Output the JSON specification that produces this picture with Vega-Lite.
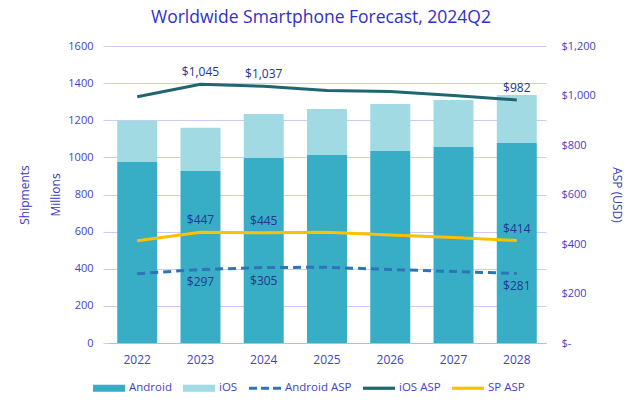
{
  "$schema": "https://vega.github.io/schema/vega-lite/v6.json",
  "width": 438,
  "height": 297,
  "autosize": {"type": "none"},
  "padding": {"left": 108, "top": 46, "right": 94, "bottom": 65},
  "background": "white",
  "title": {
    "text": "Worldwide Smartphone Forecast, 2024Q2",
    "font": "Open Sans",
    "fontSize": 17.5,
    "fontWeight": "normal",
    "color": "#3030C8",
    "anchor": "middle",
    "dx": -6,
    "offset": 14
  },
  "config": {
    "view": {"stroke": null},
    "font": "Open Sans",
    "axis": {
      "labelFont": "Open Sans",
      "titleFont": "Open Sans",
      "labelColor": "#4343C4",
      "titleColor": "#3A3AC0",
      "labelFontSize": 11,
      "titleFontSize": 12,
      "titleFontWeight": "normal",
      "gridColor": "#CBCBF3",
      "tickColor": "#CBCBF3",
      "domainColor": "#B9B9EE"
    },
    "legend": {
      "labelFont": "Open Sans",
      "labelFontSize": 11.5,
      "labelColor": "#4343C4"
    }
  },
  "data": {
    "values": [
      {"year": "2022", "series": "Android", "value": 975},
      {"year": "2023", "series": "Android", "value": 927},
      {"year": "2024", "series": "Android", "value": 997},
      {"year": "2025", "series": "Android", "value": 1013},
      {"year": "2026", "series": "Android", "value": 1034},
      {"year": "2027", "series": "Android", "value": 1056},
      {"year": "2028", "series": "Android", "value": 1078},
      {"year": "2022", "series": "iOS", "value": 222},
      {"year": "2023", "series": "iOS", "value": 232},
      {"year": "2024", "series": "iOS", "value": 236},
      {"year": "2025", "series": "iOS", "value": 248},
      {"year": "2026", "series": "iOS", "value": 254},
      {"year": "2027", "series": "iOS", "value": 253},
      {"year": "2028", "series": "iOS", "value": 258},
      {"year": "2022", "series": "Android ASP", "value": 280},
      {"year": "2023", "series": "Android ASP", "value": 297},
      {"year": "2024", "series": "Android ASP", "value": 305},
      {"year": "2025", "series": "Android ASP", "value": 306},
      {"year": "2026", "series": "Android ASP", "value": 297},
      {"year": "2027", "series": "Android ASP", "value": 289},
      {"year": "2028", "series": "Android ASP", "value": 281},
      {"year": "2022", "series": "iOS ASP", "value": 995},
      {"year": "2023", "series": "iOS ASP", "value": 1045},
      {"year": "2024", "series": "iOS ASP", "value": 1037},
      {"year": "2025", "series": "iOS ASP", "value": 1020},
      {"year": "2026", "series": "iOS ASP", "value": 1016},
      {"year": "2027", "series": "iOS ASP", "value": 1000},
      {"year": "2028", "series": "iOS ASP", "value": 982},
      {"year": "2022", "series": "SP ASP", "value": 413},
      {"year": "2023", "series": "SP ASP", "value": 447},
      {"year": "2024", "series": "SP ASP", "value": 445},
      {"year": "2025", "series": "SP ASP", "value": 447},
      {"year": "2026", "series": "SP ASP", "value": 436},
      {"year": "2027", "series": "SP ASP", "value": 426},
      {"year": "2028", "series": "SP ASP", "value": 414}
    ]
  },
  "encoding": {
    "x": {
      "field": "year",
      "type": "nominal",
      "scale": {"paddingInner": 0.368, "paddingOuter": 0.146},
      "axis": {"title": null, "labelAngle": 0, "ticks": false, "labelPadding": 11, "labelFontSize": 12, "domainColor": "#B9B9EE"}
    }
  },
  "layer": [
    {
      "transform": [{"filter": "datum.series === 'Android' || datum.series === 'iOS'"}],
      "mark": {"type": "bar"},
      "encoding": {
        "y": {
          "field": "value",
          "type": "quantitative",
          "stack": "zero",
          "scale": {"domain": [0, 1600]},
          "axis": {
            "values": [0, 200, 400, 600, 800, 1000, 1200, 1400, 1600],
            "format": "d",
            "title": ["Shipments", "\u00a0\u00a0\u00a0\u00a0\u00a0\u00a0\u00a0\u00a0\u00a0\u00a0\u00a0\u00a0\u00a0\u00a0\u00a0\u00a0\u00a0Millions"],
            "titleLineHeight": 31,
            "titlePadding": 5,
            "domain": false,
            "tickSize": 5,
            "labelPadding": 10,
            "grid": true
          }
        },
        "order": {"field": "series", "sort": "ascending"},
        "color": {
          "field": "series",
          "type": "nominal",
          "scale": {
            "domain": ["Android", "iOS", "Android ASP", "iOS ASP", "SP ASP"],
            "range": ["#37AEC6", "#A2DAE4", "#2E75B6", "#1F6670", "#FFC000"]
          }
        }
      }
    },
    {
      "transform": [{"filter": "datum.series !== 'Android' && datum.series !== 'iOS'"}],
      "encoding": {
        "y": {
          "field": "value",
          "type": "quantitative",
          "scale": {"domain": [0, 1200]},
          "axis": {
            "orient": "right",
            "values": [0, 200, 400, 600, 800, 1000, 1200],
            "labelExpr": "datum.value === 0 ? '$-' : format(datum.value, '$,.0f')",
            "title": "ASP (USD)",
            "titlePadding": 14,
            "domain": false,
            "ticks": false,
            "grid": false,
            "labelPadding": 15
          }
        }
      },
      "layer": [
        {
          "transform": [{"filter": "datum.series === 'Android ASP'"}],
          "mark": {"type": "line", "color": "#2E75B6", "strokeWidth": 3, "strokeDash": [8, 5]}
        },
        {
          "transform": [{"filter": "datum.series === 'iOS ASP'"}],
          "mark": {"type": "line", "color": "#1F6670", "strokeWidth": 3}
        },
        {
          "transform": [{"filter": "datum.series === 'SP ASP'"}],
          "mark": {"type": "line", "color": "#FFC000", "strokeWidth": 3}
        },
        {
          "transform": [{"filter": "(datum.series === 'iOS ASP' || datum.series === 'SP ASP') && (datum.year === '2023' || datum.year === '2024' || datum.year === '2028')"}],
          "mark": {"type": "text", "dy": -12, "fontSize": 12, "color": "#26338F", "font": "Open Sans"},
          "encoding": {"text": {"field": "value", "type": "quantitative", "format": "$,.0f"}}
        },
        {
          "transform": [{"filter": "datum.series === 'Android ASP' && (datum.year === '2023' || datum.year === '2024' || datum.year === '2028')"}],
          "mark": {"type": "text", "dy": 13, "fontSize": 12, "color": "#26338F", "font": "Open Sans"},
          "encoding": {"text": {"field": "value", "type": "quantitative", "format": "$,.0f"}}
        },
        {
          "mark": {"type": "point", "filled": true, "size": 0},
          "encoding": {
            "color": {
              "field": "series",
              "type": "nominal",
              "legend": {
                "title": null,
                "orient": "none",
                "legendX": -15,
                "legendY": 326,
                "direction": "horizontal",
                "symbolSize": 1024,
                "symbolOpacity": 1,
                "symbolStrokeWidth": 0,
                "labelOffset": 4,
                "columnPadding": 11
              }
            },
            "shape": {
              "field": "series",
              "type": "nominal",
              "scale": {
                "domain": ["Android", "iOS", "Android ASP", "iOS ASP", "SP ASP"],
                "range": [
                  "M-1,-0.22H1V0.22H-1Z",
                  "M-1,-0.22H1V0.22H-1Z",
                  "M-1,-0.1H-0.5V0.1H-1Z M-0.25,-0.1H0.25V0.1H-0.25Z M0.5,-0.1H1V0.1H0.5Z",
                  "M-1,-0.1H1V0.1H-1Z",
                  "M-1,-0.1H1V0.1H-1Z"
                ]
              },
              "legend": {
                "title": null,
                "orient": "none",
                "legendX": -15,
                "legendY": 326,
                "direction": "horizontal",
                "symbolSize": 1024,
                "symbolOpacity": 1,
                "symbolStrokeWidth": 0,
                "labelOffset": 4,
                "columnPadding": 11
              }
            }
          }
        }
      ]
    }
  ],
  "resolve": {"scale": {"y": "independent"}}
}
